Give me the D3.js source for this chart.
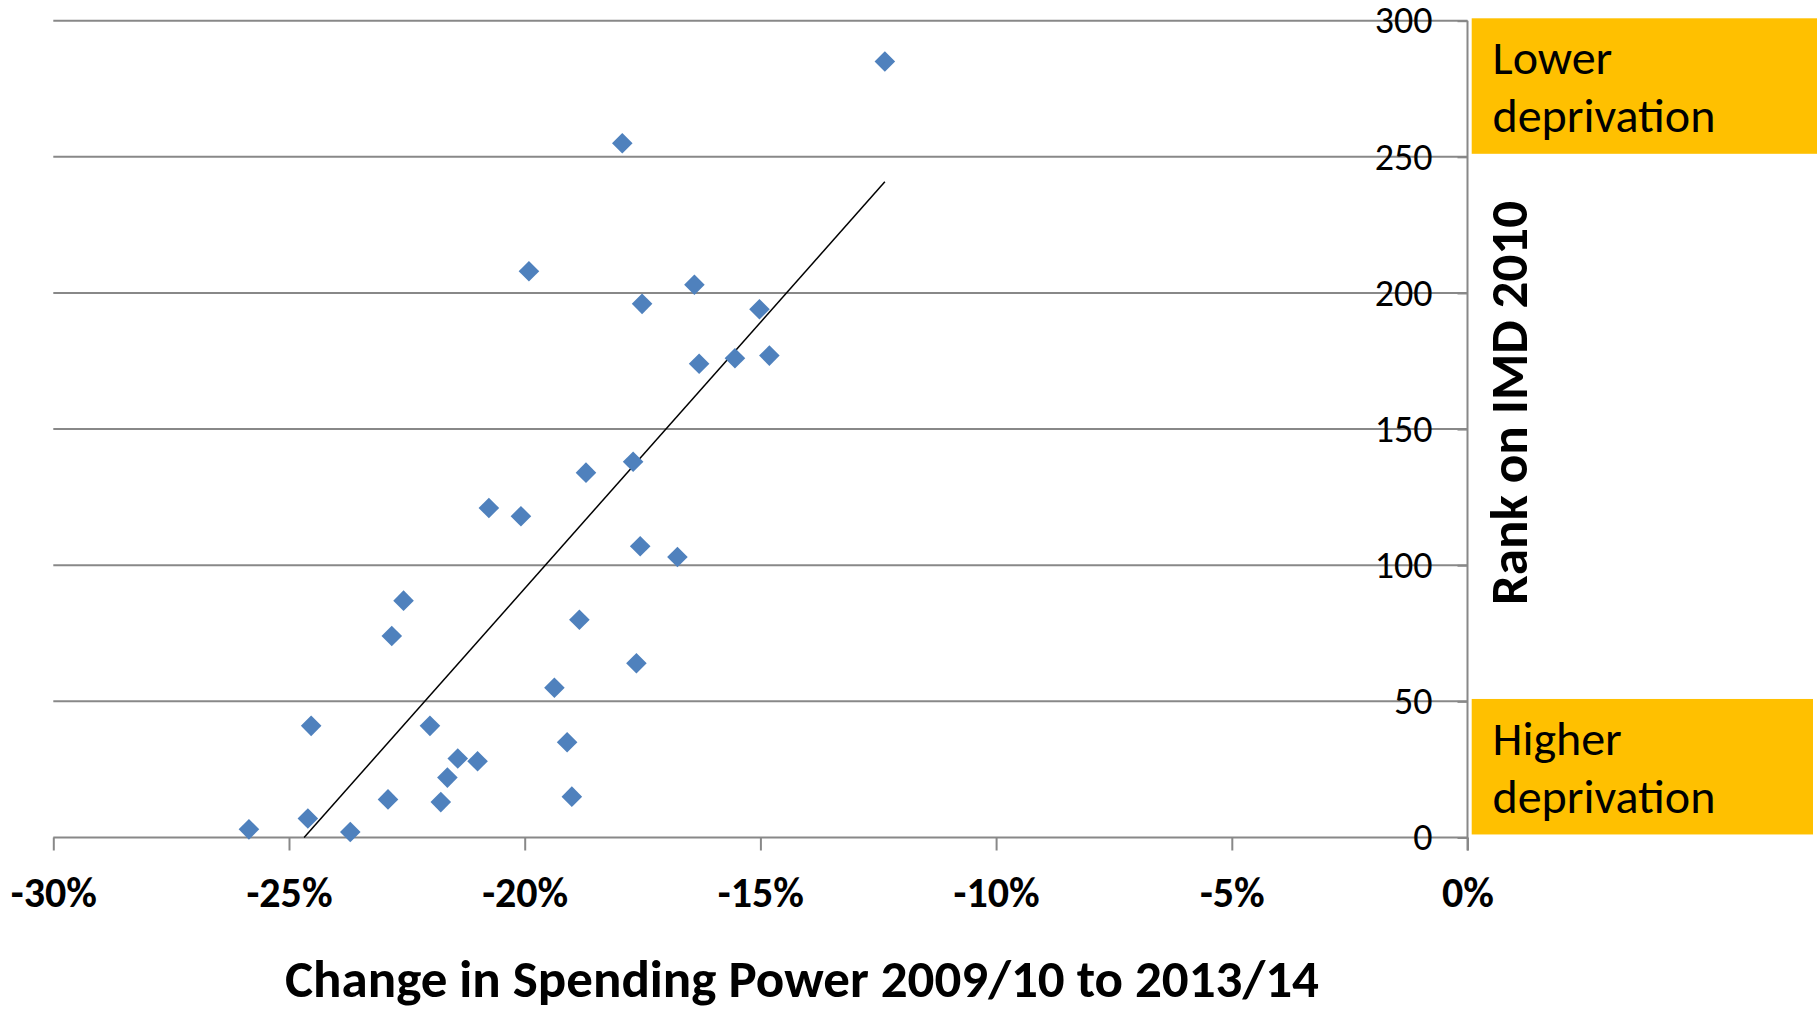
<!doctype html>
<html lang="en">
<head>
<meta charset="UTF-8">
<title>Change in Spending Power vs Rank on IMD 2010</title>
<script src="https://d3js.org/d3.v7.min.js"></script>
<style>
body { margin: 0; background-color: #ffffff; }
svg { display: block; }
text { font-family: Carlito, Calibri, Lato, sans-serif; fill: #000000; }
.grid line { stroke: #888888; stroke-width: 2; }
.axis path { display: none; }
.axis line { stroke: #888888; stroke-width: 2; }
.ytick text { font-size: 38px; }
.xtick text { font-size: 42px; font-weight: bold; }
.title { font-weight: bold; }
.note text { font-size: 48px; }
</style>
</head>
<body>
<div id="plot"></div>
<script>

// change in spending power (%), and rank on IMD 2010, one entry per authority
var spendChange = [-12.36, -17.93, -19.91, -16.40, -17.51, -15.02, -16.30, -15.54,
	-14.81, -17.70, -18.70, -20.76, -20.08, -17.55, -16.76, -22.57,
	-18.84, -22.82, -17.63, -19.37, -24.53, -22.01, -19.10, -21.42,
	-21.00, -21.64, -22.90, -21.78, -19.00, -24.60, -25.85, -23.70];
var imdRank = [285, 255, 208, 203, 196, 194, 174, 176,
	177, 138, 134, 121, 118, 107, 103, 87,
	80, 74, 64, 55, 41, 41, 35, 29,
	28, 22, 14, 13, 15, 7, 3, 2];

var xTicks = [-30, -25, -20, -15, -10, -5, 0];
var yTicks = [0, 50, 100, 150, 200, 250, 300];
var noteLabels = [["Lower", "deprivation"], ["Higher", "deprivation"]];
var noteRanks = [300, 50];

var width = 1817;
var height = 1011;
var plotLeft = 53.3, plotRight = 1467.5, plotTop = 20.7, plotBottom = 837.5;

var svg = d3.select("#plot").append("svg")
	.attr("width", width)
	.attr("height", height);

var xScale = d3.scaleLinear().domain([-30, 0]).range([plotLeft, plotRight]);
var yScale = d3.scaleLinear().domain([0, 300]).range([plotBottom, plotTop]);

// horizontal gridlines
svg.append("g")
	.attr("class", "grid")
	.selectAll("line")
	.data(yTicks)
	.enter().append("line")
	.attr("x1", plotLeft)
	.attr("x2", plotRight)
	.attr("y1", function (d) { return yScale(d); })
	.attr("y2", function (d) { return yScale(d); });

// x axis, ticks hang under the zero line
var xAxis = d3.axisBottom(xScale)
	.tickValues(xTicks)
	.tickSize(13)
	.tickSizeOuter(0)
	.tickPadding(27)
	.tickFormat(function (d) { return d + "%"; });

svg.append("g")
	.attr("class", "axis xtick")
	.attr("transform", "translate(0," + plotBottom + ")")
	.call(xAxis)
	.selectAll("text")
	.attr("dy", "0.71em");

// y axis on the right, labels sit inside the plot
var yAxis = d3.axisLeft(yScale)
	.tickValues(yTicks)
	.tickSize(10)
	.tickSizeOuter(0)
	.tickPadding(25);

svg.append("g")
	.attr("class", "axis ytick")
	.attr("transform", "translate(" + plotRight + ",0)")
	.call(yAxis);

svg.append("line")
	.attr("x1", plotRight).attr("x2", plotRight)
	.attr("y1", plotTop).attr("y2", plotBottom + 13)
	.style("stroke", "#888888")
	.style("stroke-width", 2);

// linear trend line, least squares, clipped at rank 0
var mx = d3.mean(spendChange), my = d3.mean(imdRank);
var sxy = d3.sum(spendChange, function (d, i) { return (d - mx) * (imdRank[i] - my); });
var sxx = d3.sum(spendChange, function (d) { return (d - mx) * (d - mx); });
var slope = sxy / sxx;
var icpt = my - slope * mx;
var x0 = Math.max(d3.min(spendChange), -icpt / slope);
var x1 = d3.max(spendChange);

svg.append("line")
	.attr("x1", xScale(x0))
	.attr("y1", yScale(slope * x0 + icpt))
	.attr("x2", xScale(x1))
	.attr("y2", yScale(slope * x1 + icpt))
	.style("stroke", "#000000")
	.style("stroke-width", 1.5);

// diamond markers
var diamond = d3.symbol().type(d3.symbolSquare).size(212);

svg.append("g")
	.selectAll("path")
	.data(spendChange)
	.enter().append("path")
	.attr("d", diamond)
	.attr("transform", function (d, i) {
		return "translate(" + xScale(d) + "," + yScale(imdRank[i]) + ") rotate(45)";
	})
	.style("fill", "#4f81bd");

// axis titles
svg.append("text")
	.attr("class", "title")
	.attr("x", 802)
	.attr("y", 997)
	.attr("text-anchor", "middle")
	.style("font-size", "53px")
	.text("Change in Spending Power 2009/10 to 2013/14");

svg.append("text")
	.attr("class", "title")
	.attr("transform", "translate(1527," + 403 + ") rotate(-90)")
	.attr("text-anchor", "middle")
	.style("font-size", "53px")
	.text("Rank on IMD 2010");

// orange notes beside the axis
var boxW = [345.3, 341.3];

noteRanks.forEach(function (r, k) {
	var g = svg.append("g").attr("class", "note");
	var y0 = yScale(r) - 2.4;
	g.append("rect")
		.attr("x", plotRight + 4.2)
		.attr("y", y0)
		.attr("width", boxW[k])
		.attr("height", 135.5)
		.style("fill", "#ffc000");
	noteLabels[k].forEach(function (t, j) {
		g.append("text")
			.attr("x", plotRight + 25)
			.attr("y", y0 + 56 + j * 58)
			.text(t);
	});
});

</script>
</body>
</html>
